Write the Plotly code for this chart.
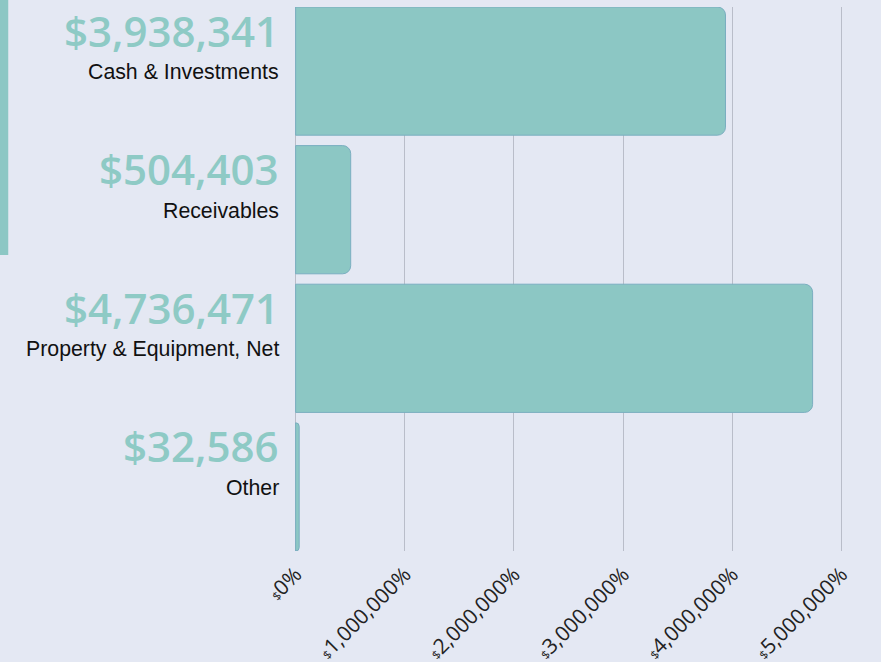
import plotly.graph_objects as go

categories = ["Cash & Investments", "Receivables", "Property & Equipment, Net", "Other"]
values = [3938341, 504403, 4736471, 32586]
tick_vals = [0, 1000000, 2000000, 3000000, 4000000, 5000000]
tick_nums = ["0", "1,000,000", "2,000,000", "3,000,000", "4,000,000", "5,000,000"]

TEAL = "#8cc7c4"
BG = "#e4e8f3"
GAP = 0.075

X0, X1 = -15000, 5015000
PLOT_W = 545 * (X1 - X0) / 5000000
L = 296 - PLOT_W * (0 - X0) / (X1 - X0)
R = 881 - L - PLOT_W

fig = go.Figure()
fig.add_trace(go.Bar(
    x=values, y=categories, orientation="h",
    marker=dict(color=TEAL, line=dict(color="#7aaec0", width=1)),
    hoverinfo="skip",
))

ticktext = ["<span style='font-size:12px'>$</span>" + t + "%" for t in tick_nums]

for cat, val in zip(categories, values):
    fig.add_annotation(
        x=0, xref="x", xshift=-15, xanchor="right",
        y=cat, yref="y", yshift=41, yanchor="middle",
        text="${:,}".format(val), showarrow=False,
        font=dict(family="Open Sans", size=42, color="#8ecac5", weight=600),
    )
    fig.add_annotation(
        x=0, xref="x", xshift=-15, xanchor="right",
        y=cat, yref="y", yshift=-1, yanchor="middle",
        text=cat.replace("&", "&amp;"), showarrow=False,
        font=dict(family="Liberation Sans", size=21.3, color="#111111"),
    )

fig.add_shape(
    type="rect", xref="paper", yref="paper",
    x0=(0 - L) / PLOT_W, x1=(9 - L) / PLOT_W,
    y0=(551 - 255) / 544, y1=(551 + 2) / 544,
    fillcolor=TEAL, line=dict(width=0), layer="above",
)

n = len(categories)
fig.update_layout(
    width=881, height=662,
    margin=dict(l=L, r=R, t=7, b=111, autoexpand=False),
    paper_bgcolor=BG, plot_bgcolor=BG,
    bargap=GAP, barcornerradius=8,
    showlegend=False,
    xaxis=dict(
        range=[X0, X1], tickvals=tick_vals, ticktext=ticktext,
        tickangle=-45, showgrid=True, gridcolor="#b9bdc9", gridwidth=1,
        zeroline=False, showline=False, ticklabelstandoff=6, automargin=False,
        tickfont=dict(family="Open Sans", size=21, color="#222222"),
    ),
    yaxis=dict(
        range=[n - 0.5 - GAP / 2, -0.5 + GAP / 2],
        showticklabels=False, showgrid=False, automargin=False,
        zeroline=False, showline=False,
    ),
)

fig.write_html("out.html")
